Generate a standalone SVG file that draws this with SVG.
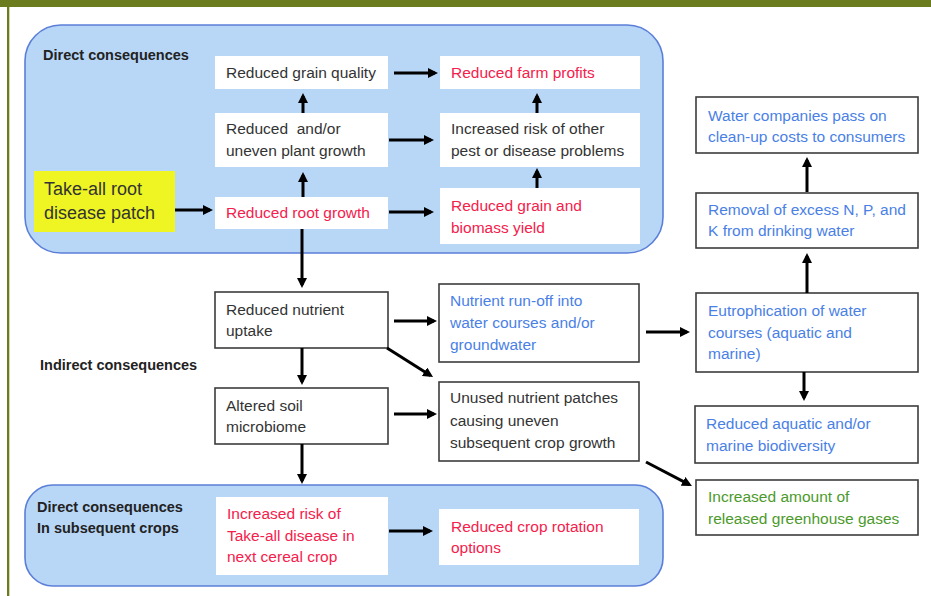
<svg xmlns="http://www.w3.org/2000/svg" width="931" height="596" viewBox="0 0 931 596">
<style>
.t{font-family:"Liberation Sans",Arial,sans-serif;font-size:15.5px;fill:#333}
.h{font-family:"Liberation Sans",Arial,sans-serif;font-size:14.5px;font-weight:bold;fill:#222}
.red{fill:#f5204c}
.blue{fill:#4a7fe6}
.green{fill:#4c9a2c}
.wb{fill:#fff;stroke:none}
.nb{fill:#fff;stroke:#3c3c3c;stroke-width:1.6}
.grp{fill:#b8d7f7;stroke:#5b7fd8;stroke-width:1.6}
.a{stroke:#000;stroke-width:3;fill:none;marker-end:url(#ah)}
</style>
<defs>
<marker id="ah" markerUnits="userSpaceOnUse" markerWidth="10" markerHeight="10" viewBox="0 0 10 10" refX="7" refY="5" orient="auto">
<path d="M0,0 L10,5 L0,10 z" fill="#000"/>
</marker>
</defs>
<rect x="0" y="0" width="931" height="596" fill="#fff"/>
<rect x="0" y="0" width="931" height="7" fill="#6b7c1f"/>
<rect x="7" y="7" width="2.3" height="589" fill="#6b7c1f"/>

<g id="group-direct">
<rect class="grp" x="25" y="25" width="638" height="228" rx="36"/>
<text class="h" x="43" y="60">Direct consequences</text>
</g>
<g id="group-subsequent">
<rect class="grp" x="25" y="485" width="638" height="101" rx="28"/>
<text class="h" x="37" y="512">Direct consequences</text>
<text class="h" x="37" y="533">In subsequent crops</text>
</g>
<g id="label-indirect">
<text class="h" x="40" y="370">Indirect consequences</text>
</g>

<g id="take-all">
<rect x="34" y="171" width="141" height="61" fill="#eef522"/>
<text class="t" style="font-size:18px" x="44" y="195" fill="#222">Take-all root</text>
<text class="t" style="font-size:18px" x="44" y="219">disease patch</text>
</g>
<g id="grain-quality">
<rect class="wb" x="215" y="56" width="173" height="33"/>
<text class="t" x="226" y="78">Reduced grain quality</text>
</g>
<g id="plant-growth">
<rect class="wb" x="215" y="113" width="173" height="54"/>
<text class="t" x="226" y="134" xml:space="preserve">Reduced  and/or</text>
<text class="t" x="226" y="156">uneven plant growth</text>
</g>
<g id="root-growth">
<rect class="wb" x="215" y="197" width="173" height="32"/>
<text class="t red" x="226" y="218">Reduced root growth</text>
</g>
<g id="farm-profits">
<rect class="wb" x="440" y="56" width="200" height="33"/>
<text class="t red" x="451" y="78">Reduced farm profits</text>
</g>
<g id="other-risk">
<rect class="wb" x="440" y="113" width="200" height="54"/>
<text class="t" x="451" y="134">Increased risk of other</text>
<text class="t" x="451" y="156">pest or disease problems</text>
</g>
<g id="grain-yield">
<rect class="wb" x="440" y="188" width="200" height="56"/>
<text class="t red" x="451" y="211">Reduced grain and</text>
<text class="t red" x="451" y="233">biomass yield</text>
</g>
<g id="nutrient-uptake">
<rect class="nb" x="215" y="292" width="173" height="56"/>
<text class="t" x="226" y="315">Reduced nutrient</text>
<text class="t" x="226" y="336">uptake</text>
</g>
<g id="soil-microbiome">
<rect class="nb" x="215" y="388" width="173" height="56"/>
<text class="t" x="226" y="411">Altered soil</text>
<text class="t" x="226" y="432">microbiome</text>
</g>
<g id="runoff">
<rect class="nb" x="439" y="284" width="200" height="78"/>
<text class="t blue" x="450" y="306">Nutrient run-off into</text>
<text class="t blue" x="450" y="328">water courses and/or</text>
<text class="t blue" x="450" y="350">groundwater</text>
</g>
<g id="unused-patches">
<rect class="nb" x="439" y="382" width="200" height="79"/>
<text class="t" x="450" y="403">Unused nutrient patches</text>
<text class="t" x="450" y="426">causing uneven</text>
<text class="t" x="450" y="448">subsequent crop growth</text>
</g>
<g id="water-companies">
<rect class="nb" x="696" y="97" width="222" height="56"/>
<text class="t blue" x="708" y="121">Water companies pass on</text>
<text class="t blue" x="708" y="142">clean-up costs to consumers</text>
</g>
<g id="removal">
<rect class="nb" x="696" y="193" width="222" height="55"/>
<text class="t blue" x="708" y="215">Removal of excess N, P, and</text>
<text class="t blue" x="708" y="236">K from drinking water</text>
</g>
<g id="eutrophication">
<rect class="nb" x="696" y="293" width="222" height="79"/>
<text class="t blue" x="708" y="316">Eutrophication of water</text>
<text class="t blue" x="708" y="338">courses (aquatic and</text>
<text class="t blue" x="708" y="359">marine)</text>
</g>
<g id="biodiversity">
<rect class="nb" x="695" y="406" width="223" height="57"/>
<text class="t blue" x="706" y="429">Reduced aquatic and/or</text>
<text class="t blue" x="706" y="451">marine biodiversity</text>
</g>
<g id="greenhouse">
<rect class="nb" x="696" y="480" width="222" height="55"/>
<text class="t green" x="708" y="502">Increased amount of</text>
<text class="t green" x="708" y="524">released greenhouse gases</text>
</g>
<g id="takeall-risk">
<rect class="wb" x="216" y="497" width="172" height="78"/>
<text class="t red" x="227" y="519">Increased risk of</text>
<text class="t red" x="227" y="541">Take-all disease in</text>
<text class="t red" x="227" y="562">next cereal crop</text>
</g>
<g id="crop-rotation">
<rect class="wb" x="439" y="509" width="200" height="56"/>
<text class="t red" x="451" y="532">Reduced crop rotation</text>
<text class="t red" x="451" y="553">options</text>
</g>

<g id="connectors">
<line class="a" x1="175" y1="210" x2="210" y2="210"/>
<line class="a" x1="394" y1="73" x2="435" y2="73"/>
<line class="a" x1="389" y1="140" x2="431" y2="140"/>
<line class="a" x1="389" y1="212" x2="431" y2="212"/>
<line class="a" x1="303" y1="197" x2="303" y2="175"/>
<line class="a" x1="303" y1="113" x2="303" y2="96"/>
<line class="a" x1="537" y1="188" x2="537" y2="171"/>
<line class="a" x1="537" y1="113" x2="537" y2="96"/>
<line class="a" x1="302" y1="229" x2="302" y2="285"/>
<line class="a" x1="302" y1="348" x2="302" y2="382"/>
<line class="a" x1="302" y1="444" x2="302" y2="481"/>
<line class="a" x1="394" y1="321" x2="434" y2="321"/>
<line class="a" x1="387" y1="348" x2="430.5" y2="375.4"/>
<line class="a" x1="394" y1="414" x2="434" y2="414"/>
<line class="a" x1="646" y1="332" x2="687" y2="332"/>
<line class="a" x1="807" y1="293" x2="807" y2="256"/>
<line class="a" x1="807" y1="192" x2="807" y2="160"/>
<line class="a" x1="804" y1="372" x2="804" y2="398"/>
<line class="a" x1="646" y1="462" x2="689.3" y2="484.6"/>
<line class="a" x1="389" y1="531" x2="430" y2="531"/>
</g>
</svg>
